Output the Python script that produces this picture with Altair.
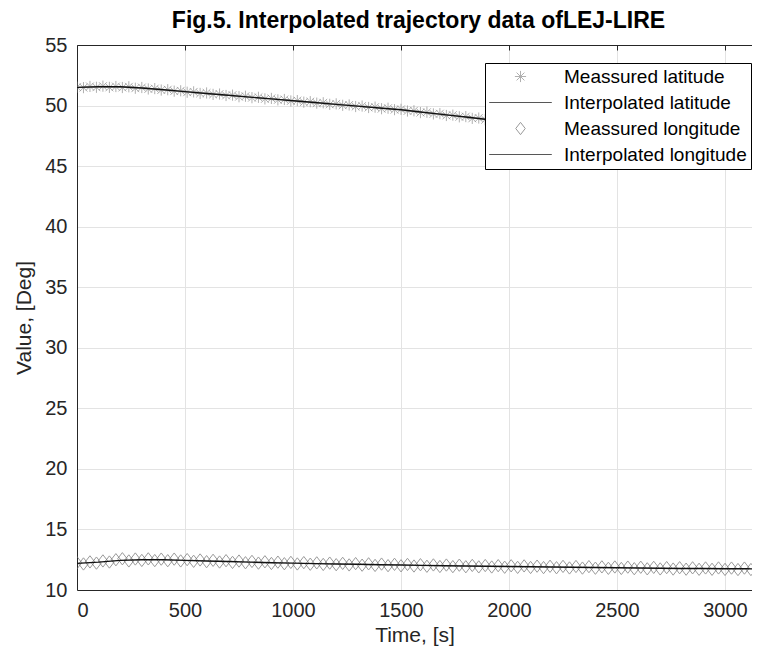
import altair as alt
import pandas as pd

# ---- data ----
t_meas = [0, 30, 60, 90, 120, 150, 180, 210, 240, 270, 300, 330, 360, 390, 420, 450, 480, 510, 540, 570,
          600, 630, 660, 690, 720, 750, 780, 810, 840, 870, 900, 930, 960, 990, 1020, 1050, 1080, 1110, 1140, 1170,
          1200, 1230, 1260, 1290, 1320, 1350, 1380, 1410, 1440, 1470, 1500, 1530, 1560, 1590, 1620, 1650, 1680, 1710, 1740, 1770,
          1800, 1830, 1860, 1890, 1920, 1950, 1980, 2010, 2040, 2070, 2100, 2130, 2160, 2190, 2220, 2250, 2280, 2310, 2340, 2370,
          2400, 2430, 2460, 2490, 2520, 2550, 2580, 2610, 2640, 2670, 2700, 2730, 2760, 2790, 2820, 2850, 2880, 2910, 2940, 2970,
          3000, 3030, 3060, 3090, 3120, 3150, 3180]

lat_meas = [51.52, 51.48, 51.58, 51.51, 51.60, 51.50, 51.57, 51.49, 51.55, 51.43, 51.49, 51.37, 51.40, 51.28, 51.31, 51.19, 51.22, 51.10, 51.13, 51.00,
            51.04, 50.92, 50.95, 50.83, 50.86, 50.73, 50.77, 50.65, 50.68, 50.55, 50.59, 50.47, 50.50, 50.38, 50.41, 50.28, 50.32, 50.20, 50.23, 50.10,
            50.14, 50.02, 50.05, 49.92, 49.96, 49.84, 49.87, 49.74, 49.78, 49.66, 49.69, 49.55, 49.57, 49.42, 49.45, 49.31, 49.33, 49.18, 49.21, 49.07,
            49.09, 48.94, 48.97, 48.83, 48.85, 48.70, 48.73, 48.59, 48.61, 48.46, 48.49, 48.35, 48.37, 48.22, 48.25, 48.11, 48.13, 47.98, 48.01, 47.87,
            47.89, 47.74, 47.77, 47.63, 47.65, 47.50, 47.53, 47.39, 47.41, 47.26, 47.29, 47.15, 47.17, 47.02, 47.05, 46.91, 46.93, 46.78, 46.81, 46.67,
            46.69, 46.55, 46.57, 46.42, 46.45, 46.31, 46.33]

lon_meas = [12.25, 12.15, 12.32, 12.22, 12.40, 12.31, 12.50, 12.58, 12.40, 12.56, 12.44, 12.57, 12.43, 12.55, 12.42, 12.55, 12.40, 12.51, 12.37, 12.48,
            12.34, 12.45, 12.31, 12.42, 12.28, 12.39, 12.25, 12.36, 12.22, 12.33, 12.19, 12.30, 12.17, 12.28, 12.15, 12.26, 12.13, 12.24, 12.11, 12.22,
            12.09, 12.20, 12.07, 12.18, 12.05, 12.16, 12.03, 12.14, 12.01, 12.12, 12.00, 12.11, 11.98, 12.09, 11.96, 12.07, 11.94, 12.06, 11.93, 12.05,
            11.92, 12.03, 11.91, 12.02, 11.90, 12.01, 11.88, 12.00, 11.87, 11.99, 11.86, 11.97, 11.85, 11.96, 11.84, 11.95, 11.82, 11.94, 11.81, 11.93,
            11.80, 11.91, 11.79, 11.90, 11.78, 11.89, 11.76, 11.88, 11.75, 11.87, 11.74, 11.85, 11.73, 11.84, 11.72, 11.83, 11.71, 11.82, 11.71, 11.82,
            11.70, 11.81, 11.69, 11.81, 11.69, 11.80, 11.68]

t_interp = [0, 100, 200, 300, 400, 500, 600, 700, 800, 900, 1000, 1100, 1200, 1300, 1400, 1500, 1600,
            1700, 1800, 1900, 2000, 2100, 2200, 2300, 2400, 2500, 2600, 2700, 2800, 2900, 3000, 3100, 3200]
lat_interp = [51.50, 51.55, 51.55, 51.45, 51.30, 51.15, 51.00, 50.85, 50.70, 50.55, 50.40, 50.25, 50.10, 49.95, 49.80, 49.65, 49.45,
              49.25, 49.05, 48.85, 48.65, 48.45, 48.25, 48.05, 47.85, 47.65, 47.45, 47.25, 47.05, 46.85, 46.65, 46.45, 46.25]
lon_interp = [12.20, 12.30, 12.45, 12.50, 12.50, 12.45, 12.40, 12.35, 12.30, 12.25, 12.22, 12.18, 12.15, 12.12, 12.09, 12.06, 12.03,
              12.00, 11.98, 11.96, 11.94, 11.92, 11.90, 11.88, 11.86, 11.84, 11.82, 11.80, 11.78, 11.77, 11.76, 11.75, 11.74]

series_names = ["Meassured latitude", "Interpolated latitude", "Meassured longitude", "Interpolated longitude"]
x_ticks = [0, 500, 1000, 1500, 2000, 2500, 3000]
y_ticks = [10, 15, 20, 25, 30, 35, 40, 45, 50, 55]

meas = pd.concat([
    pd.DataFrame({"t": t_meas, "v": lat_meas, "series": series_names[0]}),
    pd.DataFrame({"t": t_meas, "v": lon_meas, "series": series_names[2]}),
])
interp = pd.concat([
    pd.DataFrame({"t": t_interp, "v": lat_interp, "series": series_names[1]}),
    pd.DataFrame({"t": t_interp, "v": lon_interp, "series": series_names[3]}),
])

ASTER = "M-1,0L1,0M0,-1L0,1M-0.7,-0.7L0.7,0.7M-0.7,0.7L0.7,-0.7"
DIAM = "M0,-1.1L0.85,0L0,1.1L-0.85,0Z"
LINE = "M-5.6,0L5.6,0"

color_scale = alt.Scale(domain=series_names, range=["#8f8f8f", "#111111", "#6f6f6f", "#111111"])
shape_scale = alt.Scale(domain=series_names, range=[ASTER, LINE, DIAM, LINE])

xs = alt.Scale(domain=[0, 3125], nice=False, zero=False)
ys = alt.Scale(domain=[10, 55], nice=False, zero=False)

leg = alt.Legend(title=None, orient="none", legendX=408, legendY=18)

points = alt.Chart(meas).mark_point(filled=False, size=125, strokeWidth=1, clip=True).encode(
    x=alt.X("t:Q", scale=xs, title="Time, [s]",
            axis=alt.Axis(values=x_ticks, format="d", orient="bottom", grid=True, ticks=False, tickSize=0,
                          labelPadding=10, titlePadding=4)),
    y=alt.Y("v:Q", scale=ys, title="Value, [Deg]",
            axis=alt.Axis(values=y_ticks, grid=True, ticks=False, tickSize=0, labelPadding=10, titlePadding=10)),
    color=alt.Color("series:N", scale=color_scale, legend=leg),
    shape=alt.Shape("series:N", scale=shape_scale, legend=leg),
)

lines = alt.Chart(interp).mark_line(strokeWidth=1.4, clip=True).encode(
    x=alt.X("t:Q", scale=xs,
            axis=alt.Axis(values=x_ticks, orient="bottom", offset=-545, grid=False, labels=False, title=None,
                          ticks=True, tickSize=5, domain=True)),
    y=alt.Y("v:Q", scale=ys),
    color=alt.Color("series:N", scale=color_scale, legend=leg),
)

chart = alt.layer(points, lines).resolve_axis(x="independent").properties(
    width=675, height=545,
    padding={"left": 5, "top": 2, "right": 0, "bottom": 5},
    title=alt.TitleParams("Fig.5. Interpolated trajectory data ofLEJ-LIRE", font="Liberation Sans",
                          fontSize=23, fontWeight="bold", color="#000000", offset=2, dx=4),
).configure_view(strokeWidth=0).configure_axis(
    labelFont="Liberation Sans", labelFontSize=20, labelColor="#262626",
    titleFont="Liberation Sans", titleFontSize=21, titleFontWeight="normal", titleColor="#262626",
    domainColor="#262626", domainWidth=1, tickColor="#262626", gridColor="#e3e3e3", gridWidth=1,
).configure_legend(
    labelFont="Liberation Sans", labelFontSize=19, labelColor="#000000", labelLimit=300,
    strokeColor="#000000", fillColor="#ffffff", padding=4, cornerRadius=0,
    symbolSize=125, symbolStrokeWidth=1, symbolOffset=22, labelOffset=34, rowPadding=6,
)

chart.save("out.html", embed_options={"renderer": "svg", "actions": False})
